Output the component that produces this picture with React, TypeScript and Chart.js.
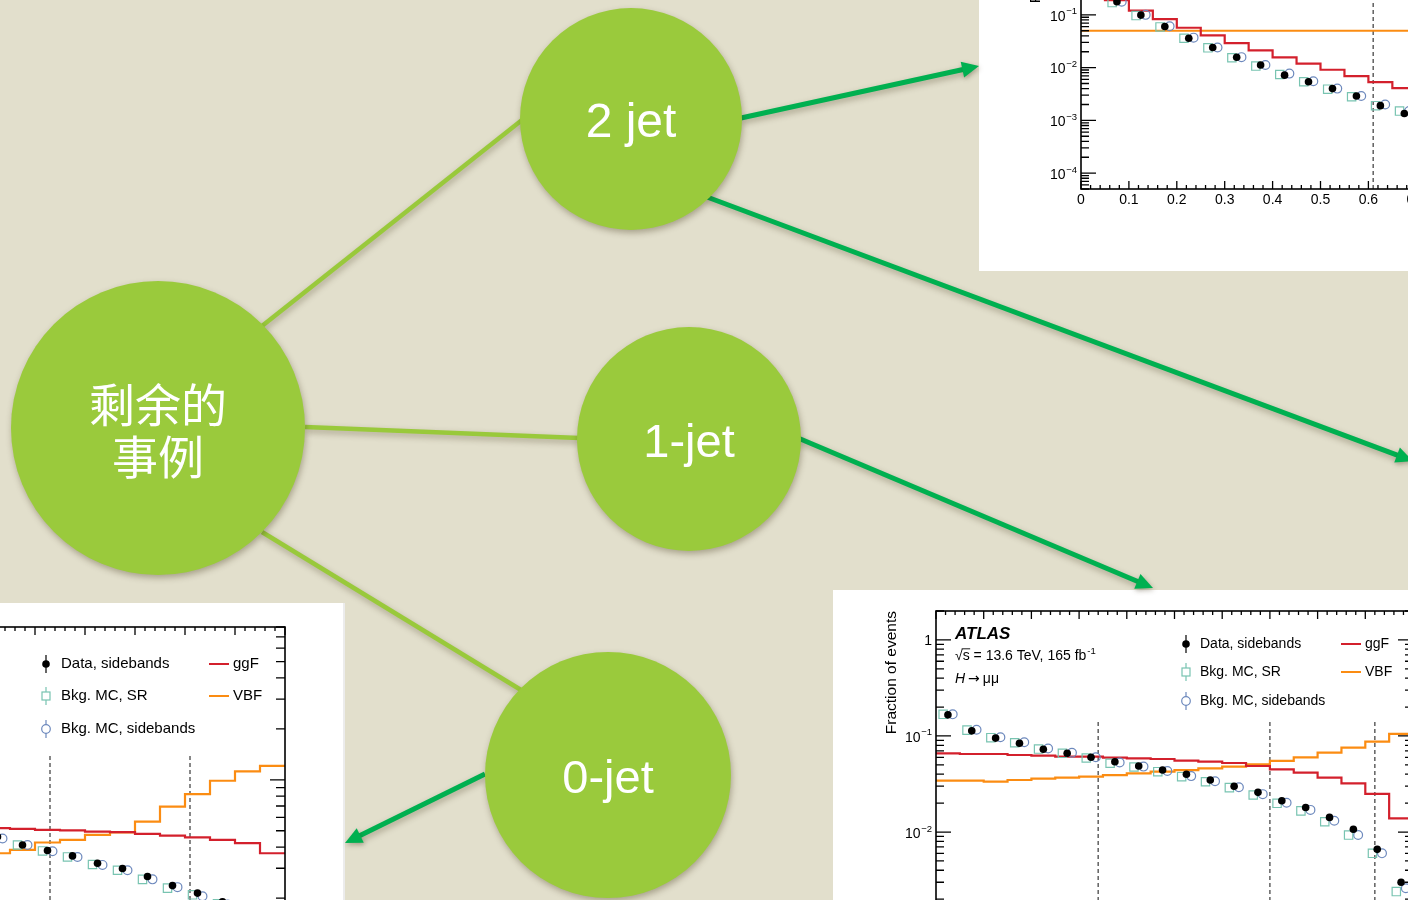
import React, { useEffect, useRef } from "react";
import { Chart, registerables } from "chart.js";

Chart.register(...registerables);

const SANS = '"Liberation Sans", Arial, Helvetica, sans-serif';
const CJK = '"Noto Sans CJK SC", "Noto Sans CJK TC", sans-serif';
const SYMBOL = '"DejaVu Sans", sans-serif';

const SLIDE_BG = "#e2dfcc";
const NODE_GREEN = "#9aca3c";
const LINK_GREEN = "#99c93b";
const ARROW_GREEN = "#00b050";
const GGF_RED = "#d3202c";
const VBF_ORANGE = "#fb8c12";
const SR_TEAL = "#78c4b1";
const SB_BLUE = "#6d89bd";
const CUT_GREY = "#555555";

// ---------- category tree ----------
const NODE_LABELS = [["剩余的", "事例"], ["2 jet"], ["1-jet"], ["0-jet"]];
const NODE_X = [158, 631, 689, 608];
const NODE_Y = [428, 119, 439, 775];
const NODE_R = [147, 111, 112, 123];
const NODE_FONT = [46, 48, 47, 47];

const LINK_FROM_X = [262, 305, 262];
const LINK_FROM_Y = [326, 427, 532];
const LINK_TO_X = [522, 579, 521];
const LINK_TO_Y = [120, 438, 690];

const ARROW_FROM_X = [741, 707, 798, 485];
const ARROW_FROM_Y = [118, 197, 438, 774];
const ARROW_TO_X = [979, 1413, 1153, 345];
const ARROW_TO_Y = [66, 461, 588, 843];
const HEAD_LEN = 17;
const HEAD_HALF = 8;

// ---------- transformed classifier score, 20 bins on [0, 1] ----------
const BIN_LOW = [0, 0.05, 0.1, 0.15, 0.2, 0.25, 0.3, 0.35, 0.4, 0.45, 0.5, 0.55, 0.6, 0.65, 0.7, 0.75, 0.8, 0.85, 0.9, 0.95];
const BIN_WIDTH = 0.05;
const MARK_SHIFT = 0.01;

const LABEL_DATA = "Data, sidebands";
const LABEL_SR = "Bkg. MC, SR";
const LABEL_SB = "Bkg. MC, sidebands";
const LABEL_GGF = "ggF";
const LABEL_VBF = "VBF";
const Y_TITLE = "Fraction of events";

// 2-jet
const DATA_2J = [0.55, 0.178, 0.099, 0.060, 0.036, 0.024, 0.0157, 0.0112, 0.0072, 0.0054, 0.0040, 0.0029, 0.0019, 0.00135, 0.0010, 0.00078, 0.0006, 0.00046, 0.00035, 0.00026];
const MC_SR_2J = [0.54, 0.171, 0.097, 0.059, 0.036, 0.0237, 0.0154, 0.0107, 0.0074, 0.0054, 0.0039, 0.0028, 0.0019, 0.0015, 0.00105, 0.0008, 0.00062, 0.00048, 0.00037, 0.00028];
const MC_SB_2J = [0.55, 0.177, 0.100, 0.061, 0.037, 0.0240, 0.0158, 0.0112, 0.0077, 0.0055, 0.0040, 0.0029, 0.0020, 0.0015, 0.0011, 0.0008, 0.00063, 0.00049, 0.00038, 0.00029];
const GGF_2J = [0.39, 0.19, 0.12, 0.083, 0.057, 0.041, 0.029, 0.0212, 0.0157, 0.0119, 0.0091, 0.0069, 0.0053, 0.0041, 0.0032, 0.0025, 0.0019, 0.0015, 0.0011, 0.0008];
const VBF_2J = [0.05, 0.05, 0.05, 0.05, 0.05, 0.05, 0.05, 0.05, 0.05, 0.05, 0.05, 0.05, 0.05, 0.05, 0.05, 0.05, 0.05, 0.05, 0.05, 0.05];
const CUTS_2J = [0.61];

// 1-jet
const DATA_1J = [0.166, 0.113, 0.095, 0.084, 0.0727, 0.066, 0.060, 0.054, 0.0487, 0.0442, 0.040, 0.0348, 0.030, 0.0259, 0.0212, 0.018, 0.0142, 0.0107, 0.0066, 0.0030];
const MC_SR_1J = [0.168, 0.115, 0.096, 0.085, 0.073, 0.066, 0.059, 0.052, 0.0475, 0.0425, 0.0377, 0.0334, 0.029, 0.0243, 0.0199, 0.0166, 0.0128, 0.0093, 0.0060, 0.0024];
const MC_SB_1J = [0.168, 0.116, 0.097, 0.086, 0.074, 0.067, 0.060, 0.053, 0.048, 0.0432, 0.0382, 0.0338, 0.0293, 0.0248, 0.0202, 0.017, 0.0131, 0.0093, 0.0060, 0.0026];
const GGF_1J = [0.066, 0.0649, 0.0649, 0.0634, 0.0624, 0.0609, 0.0609, 0.0595, 0.0585, 0.0576, 0.0553, 0.054, 0.0523, 0.0487, 0.045, 0.0415, 0.0368, 0.0321, 0.0249, 0.0139];
const VBF_1J = [0.0343, 0.0343, 0.0334, 0.0348, 0.036, 0.0368, 0.0377, 0.0392, 0.0408, 0.0425, 0.0442, 0.046, 0.048, 0.0507, 0.055, 0.060, 0.067, 0.0755, 0.0873, 0.105];
const CUTS_1J = [0.34, 0.70, 0.92];

// 0-jet
const DATA_0J = [0.115, 0.1, 0.09, 0.082, 0.075, 0.068, 0.06, 0.052, 0.046, 0.0412, 0.0382, 0.0355, 0.0321, 0.0299, 0.0268, 0.0237, 0.0214, 0.019, 0.0155, 0.012];
const MC_SR_0J = [0.113, 0.099, 0.089, 0.081, 0.074, 0.067, 0.059, 0.051, 0.0455, 0.0412, 0.038, 0.035, 0.0316, 0.0292, 0.0258, 0.0229, 0.0209, 0.0185, 0.015, 0.0116];
const MC_SB_0J = [0.114, 0.1, 0.09, 0.082, 0.075, 0.068, 0.06, 0.051, 0.045, 0.0412, 0.0378, 0.035, 0.0314, 0.0292, 0.0258, 0.0232, 0.0205, 0.0183, 0.0148, 0.0114];
const GGF_0J = [0.057, 0.0565, 0.056, 0.055, 0.054, 0.0535, 0.053, 0.0525, 0.0518, 0.0513, 0.0506, 0.0502, 0.0494, 0.049, 0.0479, 0.0468, 0.0457, 0.0442, 0.0422, 0.0368];
const VBF_0J = [0.022, 0.023, 0.024, 0.025, 0.026, 0.027, 0.029, 0.032, 0.0368, 0.0385, 0.0426, 0.0442, 0.0473, 0.0488, 0.0566, 0.0695, 0.0823, 0.0987, 0.112, 0.121];
const CUTS_0J = [0.53, 0.81];

function decimalLabel(v: number): string {
  const t = v * 10;
  if (Math.abs(t - Math.round(t)) > 1e-6) return "";
  return String(Math.round(t) / 10);
}

// ROOT-style frame with inward ticks on all four sides
const rootFrame = {
  id: "rootFrame",
  afterDatasetsDraw(chart: any, _a: any, o: any) {
    const { ctx, chartArea: a } = chart;
    const xs = chart.scales.x;
    const ys = chart.scales.y;
    ctx.save();
    ctx.strokeStyle = "#000";
    ctx.lineWidth = 1.3;
    ctx.beginPath();
    const nx = Math.round((xs.max - xs.min) / o.xMinor);
    for (let i = 0; i <= nx; i++) {
      const px = xs.getPixelForValue(xs.min + i * o.xMinor);
      const len = i % o.xMajorEvery === 0 ? o.xMajorLen : o.xMinorLen;
      ctx.moveTo(px, a.bottom);
      ctx.lineTo(px, a.bottom - len);
      ctx.moveTo(px, a.top);
      ctx.lineTo(px, a.top + len);
    }
    const e0 = Math.floor(Math.log10(ys.min));
    const e1 = Math.ceil(Math.log10(ys.max));
    for (let e = e0; e <= e1; e++) {
      for (let m = 1; m <= 9; m++) {
        const v = m * Math.pow(10, e);
        if (v < ys.min * 0.999 || v > ys.max * 1.001) continue;
        const py = ys.getPixelForValue(v);
        const len = m === 1 ? o.yMajorLen : o.yMinorLen;
        ctx.moveTo(a.left, py);
        ctx.lineTo(a.left + len, py);
        ctx.moveTo(a.right, py);
        ctx.lineTo(a.right - len, py);
      }
    }
    ctx.stroke();
    ctx.lineWidth = 1.6;
    ctx.strokeRect(a.left, a.top, a.right - a.left, a.bottom - a.top);

    // decade labels 1, 10, 10^-n with raised exponent
    ctx.fillStyle = "#000";
    ctx.textAlign = "right";
    const right = a.left - o.labelPad;
    for (let e = Math.ceil(Math.log10(ys.min) - 1e-9); e <= Math.floor(Math.log10(ys.max) + 1e-9); e++) {
      const py = ys.getPixelForValue(Math.pow(10, e));
      ctx.font = `${o.labelSize}px ${SANS}`;
      ctx.textBaseline = "middle";
      if (e === 0 || e === 1) {
        ctx.fillText(e === 0 ? "1" : "10", right, py + 1.5);
        continue;
      }
      const sup = String(e).replace("-", "−");
      ctx.font = `${o.labelSize * 0.68}px ${SANS}`;
      const sw = ctx.measureText(sup).width;
      ctx.textBaseline = "alphabetic";
      ctx.fillText(sup, right, py - 0.5);
      ctx.font = `${o.labelSize}px ${SANS}`;
      ctx.textBaseline = "middle";
      ctx.fillText("10", right - sw - 0.5, py + 2);
    }
    ctx.restore();
  },
};

function drawLegendMarker(ctx: CanvasRenderingContext2D, kind: string, x: number, y: number, color: string) {
  ctx.strokeStyle = color;
  ctx.fillStyle = color;
  ctx.lineWidth = 1.2;
  if (kind === "dot") {
    ctx.beginPath();
    ctx.moveTo(x, y - 9);
    ctx.lineTo(x, y + 9);
    ctx.stroke();
    ctx.beginPath();
    ctx.arc(x, y, 3.8, 0, Math.PI * 2);
    ctx.fill();
  } else if (kind === "square") {
    ctx.beginPath();
    ctx.moveTo(x, y - 9);
    ctx.lineTo(x, y - 4);
    ctx.moveTo(x, y + 4);
    ctx.lineTo(x, y + 9);
    ctx.stroke();
    ctx.strokeRect(x - 4, y - 4, 8, 8);
  } else {
    ctx.beginPath();
    ctx.moveTo(x, y - 9);
    ctx.lineTo(x, y - 4.3);
    ctx.moveTo(x, y + 4.3);
    ctx.lineTo(x, y + 9);
    ctx.stroke();
    ctx.beginPath();
    ctx.arc(x, y, 4.3, 0, Math.PI * 2);
    ctx.stroke();
  }
}

const rootLegend = {
  id: "rootLegend",
  afterDatasetsDraw(chart: any, _a: any, o: any) {
    const { ctx, chartArea: a } = chart;
    const ds = chart.data.datasets;
    ctx.save();
    ctx.font = `${o.size}px ${SANS}`;
    ctx.textBaseline = "middle";
    ctx.textAlign = "left";
    o.markers.forEach((entry: [number, string], r: number) => {
      const d = ds[entry[0]];
      const y = a.top + o.rows[r];
      drawLegendMarker(ctx, entry[1], a.left + o.markerX, y, entry[1] === "dot" ? d.backgroundColor : d.borderColor);
      ctx.fillStyle = "#000";
      ctx.fillText(d.label, a.left + o.textX, y);
    });
    o.lines.forEach((idx: number, r: number) => {
      const d = ds[idx];
      const y = a.top + o.rows[r];
      ctx.strokeStyle = d.borderColor;
      ctx.lineWidth = 2;
      ctx.beginPath();
      ctx.moveTo(a.left + o.lineX0, y);
      ctx.lineTo(a.left + o.lineX1, y);
      ctx.stroke();
      ctx.fillStyle = "#000";
      ctx.fillText(d.label, a.left + o.lineTextX, y);
    });
    ctx.restore();
  },
};

const atlasLabel = {
  id: "atlasLabel",
  afterDatasetsDraw(chart: any, _a: any, o: any) {
    const { ctx, chartArea: a } = chart;
    const x0 = a.left + o.x;
    const s = o.size;
    ctx.save();
    ctx.fillStyle = "#000";
    ctx.strokeStyle = "#000";
    ctx.textBaseline = "alphabetic";
    ctx.textAlign = "left";
    ctx.font = `italic bold 17px ${SANS}`;
    ctx.fillText("ATLAS", x0, a.top + o.rows[0]);

    const y1 = a.top + o.rows[1];
    ctx.font = `${s}px ${SANS}`;
    let x = x0;
    ctx.fillText("√", x, y1);
    x += ctx.measureText("√").width;
    const sw = ctx.measureText("s").width;
    ctx.fillText("s", x, y1);
    ctx.lineWidth = 0.9;
    ctx.beginPath();
    ctx.moveTo(x - 1, y1 - s * 0.8);
    ctx.lineTo(x + sw + 0.5, y1 - s * 0.8);
    ctx.stroke();
    x += sw;
    const mid = " = 13.6 TeV, 165 fb";
    ctx.fillText(mid, x, y1);
    x += ctx.measureText(mid).width;
    ctx.font = `${s * 0.68}px ${SANS}`;
    ctx.fillText("-1", x + 1, y1 - s * 0.45);

    const y2 = a.top + o.rows[2];
    ctx.font = `italic ${s}px ${SANS}`;
    ctx.fillText("H", x0, y2);
    let hx = x0 + ctx.measureText("H").width + 3;
    ctx.font = `${s}px ${SYMBOL}`;
    ctx.fillText("→", hx, y2);
    hx += ctx.measureText("→").width + 3;
    ctx.font = `${s}px ${SANS}`;
    ctx.fillText("μμ", hx, y2);
    ctx.restore();
  },
};

type Category = { data: number[]; sr: number[]; sb: number[]; ggf: number[]; vbf: number[]; cuts: number[] };
type Layout = {
  left: number; top: number; width: number; height: number;
  area: { left: number; top: number; right: number; bottom: number };
  yMin: number; yMax: number; cutTop: number; titlePad: number;
  yMajorLen: number; yMinorLen: number;
  legend: any; atlas: any;
};

function buildConfig(cat: Category, lay: Layout): any {
  const steps = (vals: number[]) =>
    vals.flatMap((v, i) => [{ x: BIN_LOW[i], y: v }, { x: BIN_LOW[i] + BIN_WIDTH, y: v }]);
  const marks = (vals: number[], shift: number) =>
    vals.map((v, i) => ({ x: BIN_LOW[i] + BIN_WIDTH / 2 + shift, y: v }));

  const datasets: any[] = [
    { label: LABEL_DATA, data: marks(cat.data, 0), showLine: false, pointStyle: "circle", pointRadius: 3.8, backgroundColor: "#000", borderColor: "#000", borderWidth: 0, order: 0 },
    { label: LABEL_SB, data: marks(cat.sb, MARK_SHIFT), showLine: false, pointStyle: "circle", pointRadius: 4.4, backgroundColor: "rgba(0,0,0,0)", borderColor: SB_BLUE, borderWidth: 1.2, order: 1 },
    { label: LABEL_SR, data: marks(cat.sr, -MARK_SHIFT), showLine: false, pointStyle: "rect", pointRadius: 5.9, backgroundColor: "rgba(0,0,0,0)", borderColor: SR_TEAL, borderWidth: 1.2, order: 2 },
    { label: LABEL_GGF, data: steps(cat.ggf), borderColor: GGF_RED, borderWidth: 2.2, pointRadius: 0, tension: 0, fill: false, order: 3 },
    { label: LABEL_VBF, data: steps(cat.vbf), borderColor: VBF_ORANGE, borderWidth: 2.2, pointRadius: 0, tension: 0, fill: false, order: 4 },
    ...cat.cuts.map((c) => ({
      label: "",
      data: [{ x: c, y: lay.yMin }, { x: c, y: lay.cutTop }],
      borderColor: CUT_GREY, borderWidth: 1.4, borderDash: [4, 3], pointRadius: 0, order: 5,
    })),
  ];

  const a = lay.area;
  return {
    type: "line",
    data: { datasets },
    options: {
      animation: false,
      responsive: false,
      maintainAspectRatio: false,
      devicePixelRatio: 1,
      events: [],
      layout: { padding: { left: 0, top: a.top, right: lay.width - a.right, bottom: lay.height - a.bottom - 30 } },
      scales: {
        x: {
          type: "linear", min: 0, max: 1,
          grid: { display: false }, border: { display: false },
          ticks: { stepSize: 0.1, autoSkip: false, maxRotation: 0, padding: -5, color: "#000", font: { family: SANS, size: 14 }, callback: (v: any) => decimalLabel(Number(v)) },
          afterFit: (s: any) => { s.height = 30; },
        },
        y: {
          type: "logarithmic", min: lay.yMin, max: lay.yMax,
          grid: { display: false }, border: { display: false },
          ticks: { display: false },
          title: { display: true, text: Y_TITLE, align: "end", color: "#000", font: { family: SANS, size: 15.5 }, padding: { top: lay.titlePad, bottom: 0 } },
          afterFit: (s: any) => { s.width = a.left; },
        },
      },
      plugins: {
        legend: { display: false },
        tooltip: { enabled: false },
        rootFrame: { xMinor: 0.02, xMajorEvery: 5, xMajorLen: 8, xMinorLen: 4, yMajorLen: lay.yMajorLen, yMinorLen: lay.yMinorLen, labelPad: 4, labelSize: 14 },
        rootLegend: lay.legend,
        atlasLabel: lay.atlas,
      },
    },
    plugins: [rootFrame, rootLegend, atlasLabel],
  };
}

const LEGEND_STD = { size: 14, markerX: 250, textX: 264, rows: [33, 61, 90], lineX0: 405, lineX1: 425, lineTextX: 429, markers: [[0, "dot"], [2, "square"], [1, "ring"]], lines: [3, 4] };
const LEGEND_0J = { size: 15, markerX: 261, textX: 276, rows: [37, 69, 102], lineX0: 424, lineX1: 444, lineTextX: 448, markers: [[0, "dot"], [2, "square"], [1, "ring"]], lines: [3, 4] };
const ATLAS_STD = { x: 19, size: 14, rows: [28, 49, 72] };

const PANELS: { box: any; lay: Layout; cat: Category }[] = [
  {
    box: { left: 979, top: 0, width: 429, height: 271 },
    lay: {
      left: 11, top: -160, width: 620, height: 400,
      area: { left: 91, top: 40, right: 570, bottom: 349 },
      yMin: 5e-5, yMax: 36, cutTop: 1, titlePad: 36, yMajorLen: 15, yMinorLen: 8,
      legend: LEGEND_STD, atlas: ATLAS_STD,
    },
    cat: { data: DATA_2J, sr: MC_SR_2J, sb: MC_SB_2J, ggf: GGF_2J, vbf: VBF_2J, cuts: CUTS_2J },
  },
  {
    box: { left: 833, top: 590, width: 575, height: 310 },
    lay: {
      left: 7, top: 0, width: 640, height: 420,
      area: { left: 96, top: 21, right: 573, bottom: 367 },
      yMin: 5e-4, yMax: 2, cutTop: 0.14, titlePad: 42, yMajorLen: 15, yMinorLen: 8,
      legend: LEGEND_STD, atlas: ATLAS_STD,
    },
    cat: { data: DATA_1J, sr: MC_SR_1J, sb: MC_SB_1J, ggf: GGF_1J, vbf: VBF_1J, cuts: CUTS_1J },
  },
  {
    box: { left: 0, top: 603, width: 345, height: 297, borderRight: "2px solid #ececec" },
    lay: {
      left: -300, top: 0, width: 620, height: 400,
      area: { left: 85, top: 24, right: 585, bottom: 346 },
      yMin: 0.01, yMax: 0.8, cutTop: 0.144, titlePad: 37, yMajorLen: 15, yMinorLen: 9,
      legend: LEGEND_0J, atlas: ATLAS_STD,
    },
    cat: { data: DATA_0J, sr: MC_SR_0J, sb: MC_SB_0J, ggf: GGF_0J, vbf: VBF_0J, cuts: CUTS_0J },
  },
];

function HistPanel({ box, lay, cat }: { box: any; lay: Layout; cat: Category }) {
  const ref = useRef<HTMLCanvasElement>(null);
  useEffect(() => {
    if (!ref.current) return;
    const chart = new Chart(ref.current, buildConfig(cat, lay));
    return () => chart.destroy();
  }, []);
  const { borderRight, ...rest } = box;
  return (
    <div style={{ position: "absolute", ...rest, background: "#fff", overflow: "hidden", boxSizing: "border-box", borderRight }}>
      <canvas ref={ref} width={lay.width} height={lay.height}
        style={{ position: "absolute", left: lay.left, top: lay.top, width: lay.width, height: lay.height }} />
    </div>
  );
}

// soft drop shadow under the tree shapes
const treeShadow = {
  id: "treeShadow",
  beforeDatasetsDraw(chart: any) {
    const c = chart.ctx;
    c.save();
    c.shadowColor = "rgba(60,50,20,0.35)";
    c.shadowBlur = 6;
    c.shadowOffsetX = 1;
    c.shadowOffsetY = 3;
  },
  afterDatasetsDraw(chart: any) {
    chart.ctx.restore();
  },
};

const arrowHeads = {
  id: "arrowHeads",
  afterDatasetsDraw(chart: any) {
    const { ctx } = chart;
    const xs = chart.scales.x;
    const ys = chart.scales.y;
    ctx.save();
    ctx.shadowColor = "rgba(60,50,20,0.35)";
    ctx.shadowBlur = 5;
    ctx.shadowOffsetX = 1;
    ctx.shadowOffsetY = 2;
    ctx.fillStyle = ARROW_GREEN;
    ARROW_TO_X.forEach((tx, i) => {
      const px = xs.getPixelForValue(tx);
      const py = ys.getPixelForValue(ARROW_TO_Y[i]);
      const sx = xs.getPixelForValue(ARROW_FROM_X[i]);
      const sy = ys.getPixelForValue(ARROW_FROM_Y[i]);
      const ang = Math.atan2(py - sy, px - sx);
      const c = Math.cos(ang);
      const s = Math.sin(ang);
      const bx = px - HEAD_LEN * c;
      const by = py - HEAD_LEN * s;
      ctx.beginPath();
      ctx.moveTo(px, py);
      ctx.lineTo(bx + HEAD_HALF * s, by - HEAD_HALF * c);
      ctx.lineTo(bx - HEAD_HALF * s, by + HEAD_HALF * c);
      ctx.closePath();
      ctx.fill();
    });
    ctx.restore();
  },
};

const nodeLabels = {
  id: "nodeLabels",
  afterDatasetsDraw(chart: any) {
    const { ctx } = chart;
    const meta = chart.getDatasetMeta(0);
    ctx.save();
    ctx.fillStyle = "#ffffff";
    ctx.textAlign = "center";
    ctx.textBaseline = "middle";
    meta.data.forEach((el: any, i: number) => {
      const lines = NODE_LABELS[i];
      const size = NODE_FONT[i];
      const isCjk = /[\u4e00-\u9fff]/.test(lines.join(""));
      ctx.font = `${size}px ${isCjk ? CJK : SANS}`;
      const lh = size * 1.13;
      const dy = isCjk ? 3 : 5;
      lines.forEach((t, k) => {
        const y = el.y + dy + (k - (lines.length - 1) / 2) * lh;
        ctx.fillText(t, el.x, y);
      });
    });
    ctx.restore();
  },
};

function Tree() {
  const ref = useRef<HTMLCanvasElement>(null);
  useEffect(() => {
    if (!ref.current) return;
    const nodes = NODE_X.map((x, i) => ({ x, y: NODE_Y[i], r: NODE_R[i] }));
    const links = LINK_FROM_X.map((x0, i) => ({
      type: "line",
      data: [{ x: x0, y: LINK_FROM_Y[i] }, { x: LINK_TO_X[i], y: LINK_TO_Y[i] }],
      borderColor: LINK_GREEN, borderWidth: 4.5, pointRadius: 0, tension: 0, order: 1, clip: false,
    }));
    const arrows = ARROW_FROM_X.map((x0, i) => {
      const dx = ARROW_TO_X[i] - x0;
      const dy = ARROW_TO_Y[i] - ARROW_FROM_Y[i];
      const len = Math.hypot(dx, dy);
      const back = HEAD_LEN - 3;
      return {
        type: "line",
        data: [{ x: x0, y: ARROW_FROM_Y[i] }, { x: ARROW_TO_X[i] - (dx / len) * back, y: ARROW_TO_Y[i] - (dy / len) * back }],
        borderColor: ARROW_GREEN, borderWidth: 5, pointRadius: 0, tension: 0, order: 2, clip: false,
      };
    });
    const chart = new Chart(ref.current, {
      type: "bubble",
      data: {
        datasets: [
          { type: "bubble", data: nodes, backgroundColor: NODE_GREEN, borderWidth: 0, order: 0, clip: false } as any,
          ...(links as any[]),
          ...(arrows as any[]),
        ],
      },
      options: {
        animation: false,
        responsive: false,
        maintainAspectRatio: false,
        devicePixelRatio: 1,
        events: [],
        layout: { padding: 0, autoPadding: false },
        scales: {
          x: { type: "linear", min: 0, max: 1408, display: false },
          y: { type: "linear", min: 0, max: 900, reverse: true, display: false },
        },
        plugins: { legend: { display: false }, tooltip: { enabled: false } },
      } as any,
      plugins: [treeShadow, arrowHeads, nodeLabels],
    });
    return () => chart.destroy();
  }, []);
  return (
    <canvas ref={ref} width={1408} height={900}
      style={{ position: "absolute", left: 0, top: 0, width: 1408, height: 900, pointerEvents: "none" }} />
  );
}

export default function App() {
  return (
    <div style={{ position: "fixed", left: 0, top: 0, width: 1408, height: 900, background: SLIDE_BG, overflow: "hidden" }}>
      {PANELS.map((p, i) => (
        <HistPanel key={i} box={p.box} lay={p.lay} cat={p.cat} />
      ))}
      <Tree />
    </div>
  );
}
